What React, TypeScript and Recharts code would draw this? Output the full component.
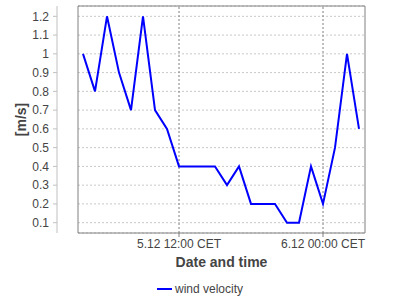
import React from "react";
import { LineChart, Line, XAxis, YAxis, CartesianGrid, ReferenceLine, ReferenceArea, Legend, Label } from "recharts";

const hours = [4, 5, 6, 7, 8, 9, 10, 11, 12, 13, 14, 15, 16, 17, 18, 19, 20, 21, 22, 23, 24, 25, 26, 27];
const velocity = [1.0, 0.8, 1.2, 0.9, 0.7, 1.2, 0.7, 0.6, 0.4, 0.4, 0.4, 0.4, 0.3, 0.4, 0.2, 0.2, 0.2, 0.1, 0.1, 0.4, 0.2, 0.5, 1.0, 0.6];
const xTicks = [12, 24];
const xTickLabels = ["5.12 12:00 CET", "6.12 00:00 CET"];
const yTicks = [0.1, 0.2, 0.3, 0.4, 0.5, 0.6, 0.7, 0.8, 0.9, 1, 1.1, 1.2];
const seriesName = "wind velocity";
const xDomain: [number, number] = [3.583, 27.5];
const yDomain: [number, number] = [0.045, 1.255];

const data = hours.map((h, i) => ({ h, v: velocity[i] }));

const FONT = "'Liberation Sans', Arial, sans-serif";
const TEXT = "#444444";

const YTick = (p: any) => {
  const v = p.payload.value;
  return (
    <g>
      <line x1={53} x2={57} y1={p.y} y2={p.y} stroke="#c0c0c0" />
      <text x={49} y={p.y} dy="0.35em" textAnchor="end" fill={TEXT} fontSize={12} fontFamily={FONT}>
        {String(v)}
      </text>
    </g>
  );
};

const YLabel = (p: any) => {
  const vb = p.viewBox || { x: 0, y: 6, width: 78, height: 227 };
  const cy = vb.y + vb.height / 2;
  return (
    <g>
      <line x1={57} x2={57} y1={vb.y} y2={vb.y + vb.height} stroke="#c0c0c0" />
      <text x={21} y={cy} transform={`rotate(-90 21 ${cy})`} textAnchor="middle" dominantBaseline="central" fill={TEXT} fontSize={14} fontWeight="bold" fontFamily={FONT}>
        [m/s]
      </text>
    </g>
  );
};

const XLabel = (p: any) => {
  const vb = p.viewBox || { x: 78, y: 233, width: 287, height: 30 };
  return (
    <text x={vb.x + vb.width / 2} y={262} textAnchor="middle" dominantBaseline="central" fill={TEXT} fontSize={14} fontWeight="bold" fontFamily={FONT}>
      Date and time
    </text>
  );
};

const LegendContent = () => (
  <div style={{ display: "flex", justifyContent: "center", alignItems: "center", height: 18, fontFamily: FONT, fontSize: 12, color: TEXT }}>
    <span style={{ display: "inline-block", width: 15, height: 2, background: "#0000ff", marginRight: 3 }} />
    <span>{seriesName}</span>
  </div>
);

export default function App() {
  return (
    <div style={{ position: "absolute", left: 0, top: 0, width: 400, height: 300, background: "#fff" }}>
      <LineChart width={400} height={300} data={data} margin={{ top: 6, right: 35, bottom: 0, left: 0 }}>
        <CartesianGrid vertical={false} stroke="#c8c8c8" strokeDasharray="2 2" />
        <XAxis
          dataKey="h"
          type="number"
          domain={xDomain}
          ticks={xTicks}
          interval={0}
          tickFormatter={(v: number) => xTickLabels[xTicks.indexOf(v)]}
          axisLine={false}
          tickLine={{ stroke: "#808080" }}
          tickSize={4}
          tickMargin={2}
          tick={{ fill: TEXT, fontSize: 12, fontFamily: FONT }}
          height={67}
          allowDataOverflow
        >
          <Label content={XLabel} />
        </XAxis>
        <YAxis
          type="number"
          domain={yDomain}
          ticks={yTicks}
          interval={0}
          axisLine={false}
          tickLine={false}
          tick={YTick}
          width={78}
          allowDataOverflow
        >
          <Label content={YLabel} />
        </YAxis>
        {xTicks.map((t) => (
          <ReferenceLine key={t} x={t} stroke="#808080" strokeDasharray="2 2" />
        ))}
        <ReferenceArea x1={xDomain[0]} x2={xDomain[1]} y1={yDomain[0]} y2={yDomain[1]} fill="none" fillOpacity={0} stroke="#808080" strokeWidth={1} ifOverflow="visible" />
        <Line type="linear" dataKey="v" name={seriesName} stroke="#0000ff" strokeWidth={2} dot={false} isAnimationActive={false} />
        <Legend layout="horizontal" verticalAlign="middle" align="center" content={LegendContent} wrapperStyle={{ top: 280, left: 0, width: 400 }} />
      </LineChart>
    </div>
  );
}
